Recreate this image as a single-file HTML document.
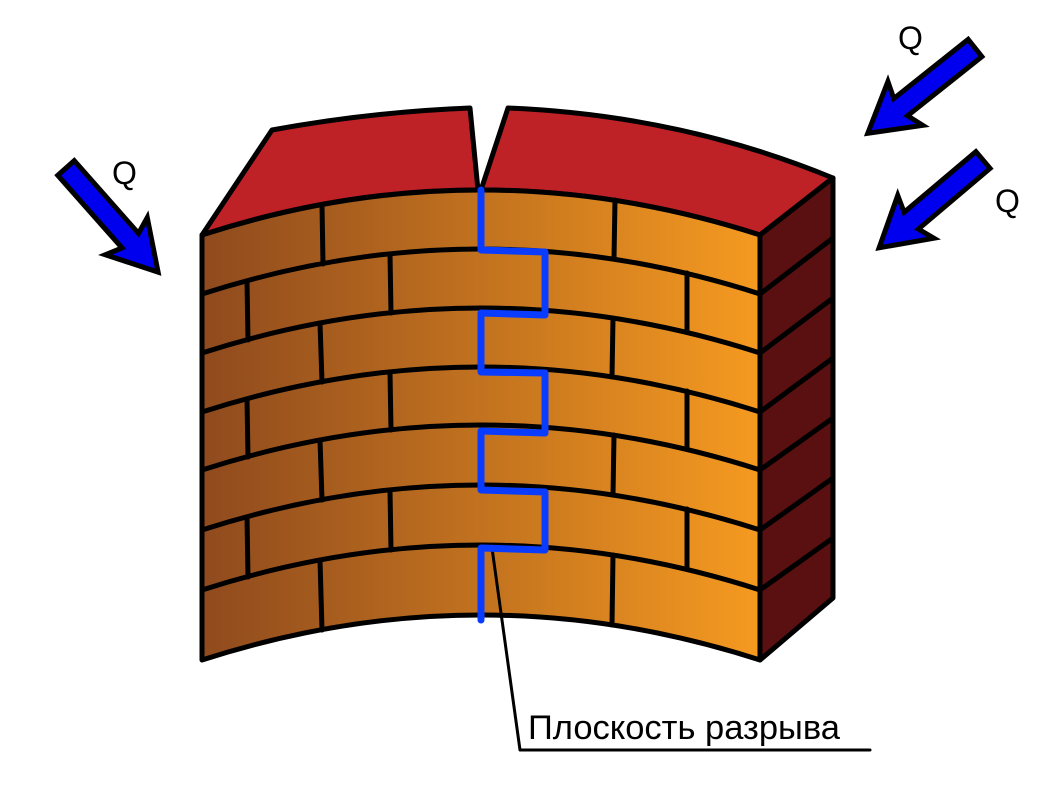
<!DOCTYPE html>
<html><head><meta charset="utf-8"><style>html,body{margin:0;padding:0;background:#fff;}</style></head><body>
<svg width="1053" height="780" viewBox="0 0 1053 780" xmlns="http://www.w3.org/2000/svg">
<defs>
<linearGradient id="g" x1="202" y1="0" x2="760" y2="0" gradientUnits="userSpaceOnUse">
<stop offset="0" stop-color="#8f4a1e"/><stop offset="1" stop-color="#f59a20"/>
</linearGradient>
</defs>
<g stroke="#000" stroke-width="5" stroke-linejoin="round" stroke-linecap="round">
<path d="M202,235 L272,130 Q370,112 470,108 L478,190 Q340,190 202,235 Z" fill="#be2126"/>
<path d="M508,108 Q680,115 833,178 L760,235 Q620,190 481,190 Z" fill="#be2126"/>
<path d="M760,235 L833,178 L833,598 L760,660 Z" fill="#5a1010"/>
<g fill="none">
<path d="M760,294 L833,238 M760,353 L833,298 M760,412 L833,358 M760,470 L833,418 M760,530 L833,478 M760,590 L833,538"/>
</g>
<path d="M202,235 Q481,145 760,235 L760,660 Q481,570 202,660 Z" fill="url(#g)"/>
<g fill="none">
<path d="M202,294 Q481,204 760,294"/>
<path d="M202,353 Q481,263 760,353"/>
<path d="M202,412 Q481,322 760,412"/>
<path d="M202,470 Q481,380 760,470"/>
<path d="M202,530 Q481,440 760,530"/>
<path d="M202,590 Q481,500 760,590"/>
<path d="M322,205 L323,264 M615,200 L614,259"/>
<path d="M247,281 L248,340 M390,254 L391,313 M687,273 L687,332"/>
<path d="M320,323 L322,382 M613,318 L612,377"/>
<path d="M247,399 L248,457 M390,372 L391,430 M687,391 L687,449"/>
<path d="M320,440 L322,500 M614,435 L613,495"/>
<path d="M247,517 L248,577 M390,490 L391,550 M687,509 L687,569"/>
<path d="M320,560 L322,630 M613,555 L612,625"/>
<path d="M492,548 L520,750 L870,750" stroke-width="3"/>
</g>
</g>
<path d="M481,190 L481,250 L545,252 L545,315 L481,313 L481,372 L545,373 L545,433 L481,431 L481,490 L545,492 L545,550 L481,548 L481,620" fill="none" stroke="#0a3cff" stroke-width="7" stroke-linejoin="round" stroke-linecap="round"/>
<g fill="#0000ee" stroke="#000" stroke-width="5" stroke-linejoin="miter">
<polygon points="0,-11 95,-11 89,-28 137,0 89,28 95,11 0,11" transform="translate(975,48) rotate(141.5)"/>
<polygon points="0,-11 94,-11 88,-28 136,0 88,28 94,11 0,11" transform="translate(983,160) rotate(139.8)"/>
<polygon points="0,-11 97,-11 91,-28 139,0 91,28 97,11 0,11" transform="translate(66,168) rotate(48.5)"/>
</g>
<g font-family="Liberation Sans, sans-serif" font-size="32" fill="#000">
<text x="112" y="184">Q</text>
<text x="898" y="49">Q</text>
<text x="995" y="212">Q</text>
<text x="528" y="739" font-size="34.5">Плоскость разрыва</text>
</g>
</svg>
</body></html>
